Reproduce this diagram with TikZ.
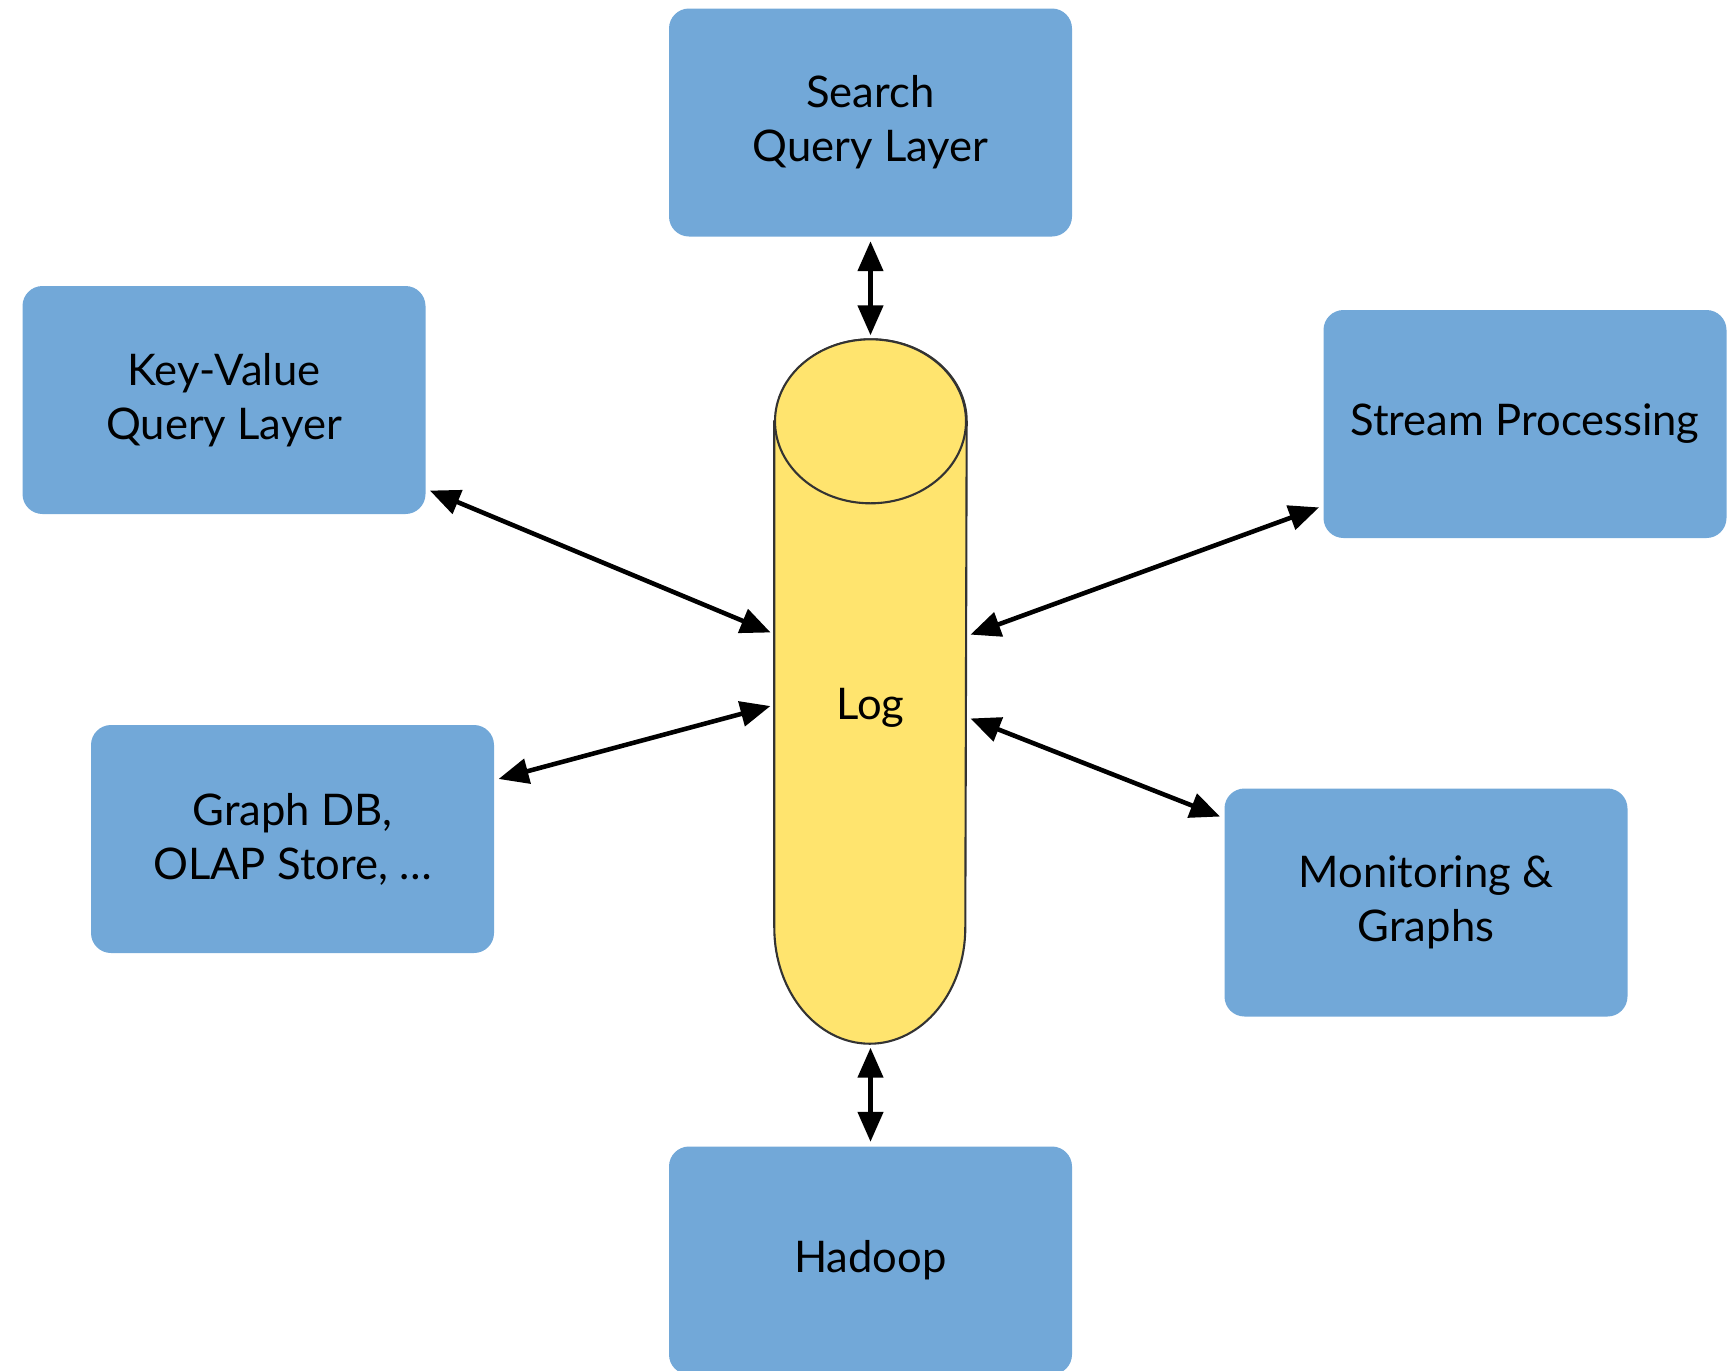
\documentclass[tikz,border=0pt]{standalone}
\usepackage{fontspec}
\setmainfont{Lato}
\usetikzlibrary{arrows.meta}

\definecolor{boxblue}{RGB}{114,168,216}
\definecolor{logyellow}{RGB}{255,228,110}

\begin{document}
\begin{tikzpicture}[node distance=5.69cm, >={Triangle[length=3mm,width=2.5mm]},
                    box node/.style={rectangle,rounded corners=2mm,fill=boxblue,inner sep=0pt,
                      minimum width=4.03cm,minimum height=2.28cm,align=center,
                      font=\fontsize{12.4}{15.3}\selectfont},
                    log node/.style={rectangle,inner sep=0pt,minimum width=1.91cm,minimum height=7.03cm},
                    log shape/.style={fill=logyellow,draw=black!80,line width=0.6pt}]

  \useasboundingbox (0,0) rectangle (17.28,-13.70);

  % the log in the middle, drawn as a standing cylinder
  \node[log node] (log) at (8.705,-6.915) {};
  \path[log shape] ([yshift=-8.2mm]log.north west) -- ([yshift=11.6mm]log.south west)
    arc[start angle=180,end angle=360,x radius=9.55mm,y radius=11.6mm]
    -- ([yshift=-8.2mm]log.north east)
    arc[start angle=0,end angle=180,x radius=9.55mm,y radius=8.2mm] -- cycle;
  \draw[log shape] ([yshift=-8.2mm]log.north) ellipse [x radius=9.55mm,y radius=8.2mm];
  \node[font=\fontsize{12.4}{15.3}\selectfont] (logtext) at ([yshift=-1.6mm]log.center) {Log};

  \node[box node] (search) [above of=log] {Search\\Query Layer};
  \node[box node] (hadoop) [below of=log] {Hadoop};
  \node[box node] (kv) at (2.24,-4.00) {Key-Value\\Query Layer};
  \node[box node] (stream) at (15.25,-4.24) {Stream Processing};
  \node[box node] (graphdb) at (2.925,-8.39) {Graph DB,\\OLAP Store, \dots};
  \node[box node] (monitor) at (14.26,-9.025) {Monitoring \&\\Graphs};

  \path[line width=1.3pt,shorten <=0.4mm,shorten >=0.4mm]
    (search) edge [<->] (log)
    (hadoop) edge [<->] (log)
    ([yshift=-8.9mm]kv.east) edge [<->] ([yshift=5.75mm]log.west)
    ([yshift=5.9mm]graphdb.east) edge [<->] ([yshift=-1.35mm]log.west)
    ([yshift=-8.2mm]stream.west) edge [<->] ([yshift=5.55mm]log.east)
    ([yshift=8.45mm]monitor.west) edge [<->] ([yshift=-2.55mm]log.east);
\end{tikzpicture}
\end{document}
